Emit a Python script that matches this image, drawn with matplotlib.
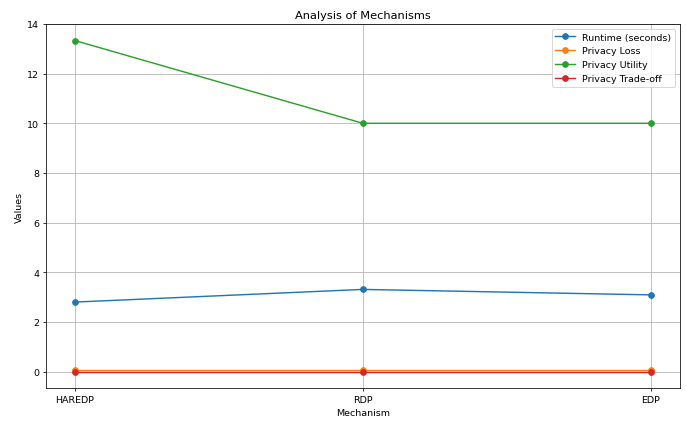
import matplotlib.pyplot as plt

mechanisms = ['HAREDP', 'RDP', 'EDP']
runtime = [2.80, 3.31, 3.09]
privacy_loss = [0.05, 0.05, 0.05]
privacy_utility = [13.333333333333334, 10.0, 10.0]
privacy_tradeoff = [0.0, 0.0, 0.0]

fig, ax = plt.subplots(figsize=(10, 6.166), dpi=68.6)

ax.plot(mechanisms, runtime, marker='o', label='Runtime (seconds)')
ax.plot(mechanisms, privacy_loss, marker='o', label='Privacy Loss')
ax.plot(mechanisms, privacy_utility, marker='o', label='Privacy Utility')
ax.plot(mechanisms, privacy_tradeoff, marker='o', label='Privacy Trade-off')

ax.set_xlabel('Mechanism')
ax.set_ylabel('Values')
ax.set_title('Analysis of Mechanisms')
ax.set_ylim(top=14)
ax.legend()
ax.grid(True)

plt.subplots_adjust(left=0.067, right=0.991, top=0.941, bottom=0.080)
plt.savefig('out.png')
